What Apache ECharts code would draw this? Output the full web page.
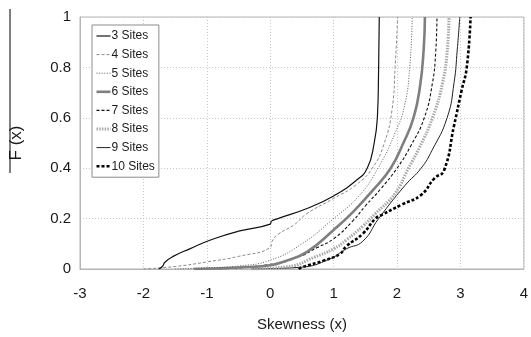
<!DOCTYPE html>
<html>
<head>
<meta charset="utf-8">
<script src="https://cdn.jsdelivr.net/npm/echarts@6/dist/echarts.min.js"></script>
<style>
  html, body { margin: 0; padding: 0; background: #fff; }
  #chart { width: 531px; height: 337px; }
</style>
</head>
<body>
<div id="chart"></div>
<script>
  const xTicks = [-3, -2, -1, 0, 1, 2, 3, 4];
  const yTicks = [0, 0.2, 0.4, 0.6, 0.8, 1];
  const seriesNames = ["3 Sites", "4 Sites", "5 Sites", "6 Sites", "7 Sites", "8 Sites", "9 Sites", "10 Sites"];

  // [skewness, F(x)]
  const sites3 = [[-1.76, 0], [-1.7, 0.01], [-1.66, 0.027], [-1.53, 0.05], [-1.27, 0.08], [-0.91, 0.118], [-0.5, 0.15], [0, 0.178], [0.02, 0.19], [0.12, 0.2], [0.58, 0.24], [1.0, 0.29], [1.35, 0.35], [1.53, 0.4], [1.64, 0.5], [1.69, 0.6], [1.71, 0.8], [1.72, 1]];
  const sites4 = [[-2, 0], [-1.5, 0.01], [-1, 0.028], [-0.5, 0.05], [0, 0.085], [0.03, 0.11], [0.12, 0.137], [0.38, 0.176], [0.58, 0.22], [1.0, 0.28], [1.35, 0.333], [1.61, 0.4], [1.8, 0.5], [1.92, 0.63], [1.97, 0.8], [2.01, 1]];
  const sites5 = [[-1.5, 0], [-1, 0.005], [-0.5, 0.012], [0, 0.035], [0.5, 0.1], [1.0, 0.2], [1.4, 0.29], [1.7, 0.4], [1.97, 0.54], [2.12, 0.65], [2.2, 0.8], [2.24, 1]];
  const sites6 = [[-1.2, 0], [-0.5, 0.006], [0, 0.015], [0.22, 0.03], [0.58, 0.068], [1.0, 0.155], [1.3, 0.225], [1.61, 0.31], [1.9, 0.4], [2.1, 0.5], [2.26, 0.6], [2.36, 0.72], [2.42, 0.87], [2.44, 1]];
  const sites7 = [[-0.8, 0], [0, 0.018], [0.43, 0.046], [0.74, 0.085], [1.0, 0.12], [1.3, 0.19], [1.5, 0.25], [1.75, 0.32], [2.0, 0.4], [2.22, 0.49], [2.43, 0.6], [2.56, 0.74], [2.61, 0.86], [2.63, 1]];
  const sites8 = [[-0.3, 0], [0.3, 0.01], [0.69, 0.046], [1.0, 0.08], [1.2, 0.115], [1.46, 0.17], [1.66, 0.22], [1.97, 0.3], [2.18, 0.4], [2.35, 0.48], [2.56, 0.6], [2.72, 0.74], [2.79, 0.86], [2.82, 1]];
  const sites9 = [[-0.3, 0], [0.48, 0.007], [0.94, 0.04], [1.2, 0.08], [1.46, 0.11], [1.71, 0.2], [2.12, 0.33], [2.38, 0.4], [2.55, 0.47], [2.79, 0.6], [2.9, 0.74], [2.95, 0.87], [2.99, 1]];
  const sites10 = [[0.45, 0], [0.5, 0.007], [0.84, 0.033], [1.1, 0.06], [1.2, 0.09], [1.46, 0.14], [1.66, 0.2], [1.77, 0.216], [2.07, 0.255], [2.38, 0.294], [2.59, 0.36], [2.74, 0.39], [2.9, 0.57], [3.02, 0.71], [3.1, 0.8], [3.16, 1]];

  const seriesData = [sites3, sites4, sites5, sites6, sites7, sites8, sites9, sites10];
  const lineStyles = [
    { color: "#111", width: 1.2, type: "solid" },
    { color: "#8a8a8a", width: 1, type: [3, 2] },
    { color: "#5e5e5e", width: 1, type: [1, 1.6] },
    { color: "#7f7f7f", width: 2.6, type: "solid" },
    { color: "#111", width: 1.1, type: [3, 2] },
    { color: "#a8a8a8", width: 3, type: [1.5, 1.2] },
    { color: "#222", width: 1, type: "solid" },
    { color: "#000", width: 2.6, type: [3, 2] }
  ];

  const chart = echarts.init(document.getElementById("chart"));
  const textColor = "#1a1a1a";

  chart.setOption({
    animation: false,
    grid: { left: 77, right: 0, top: 17, bottom: 65, show: true, borderColor: "#b5b5b5", borderWidth: 1 },
    legend: {
      orient: "vertical",
      left: 92,
      top: 25,
      width: 68,
      padding: [5, 4, 5, 3],
      itemWidth: 14,
      itemHeight: 10,
      itemGap: 6.6,
      itemStyle: { opacity: 0 },
      backgroundColor: "#fff",
      borderColor: "#8c8c8c",
      borderWidth: 1,
      borderRadius: 0,
      textStyle: { fontFamily: "Liberation Sans", fontSize: 12, color: textColor, padding: [0, 0, 0, -4] },
      data: seriesNames.map((name, i) => ({
        name: name,
        lineStyle: { color: lineStyles[i].color, width: lineStyles[i].width, type: lineStyles[i].type }
      }))
    },
    xAxis: {
      type: "value",
      min: xTicks[0],
      max: xTicks[xTicks.length - 1],
      interval: 1,
      name: "Skewness (x)",
      nameLocation: "middle",
      nameGap: 48,
      nameTextStyle: { fontFamily: "Liberation Sans", fontSize: 15, color: textColor },
      axisLine: { show: true, onZero: false, lineStyle: { color: "#b5b5b5" } },
      axisTick: { show: false },
      axisLabel: { fontFamily: "Liberation Sans", fontSize: 15, color: textColor, margin: 17 },
      splitLine: { show: true, lineStyle: { color: "#c8c8c8", type: [1, 2], width: 1 } }
    },
    yAxis: {
      type: "value",
      min: yTicks[0],
      max: yTicks[yTicks.length - 1],
      interval: 0.2,
      name: "F (x)",
      nameLocation: "middle",
      nameGap: 55,
      nameTextStyle: { fontFamily: "Liberation Sans", fontSize: 17, color: textColor },
      axisLine: { show: true, onZero: false, lineStyle: { color: "#b5b5b5" } },
      axisTick: { show: false },
      axisLabel: { fontFamily: "Liberation Sans", fontSize: 15, color: textColor, margin: 9 },
      splitLine: { show: true, lineStyle: { color: "#c8c8c8", type: [1, 2], width: 1 } }
    },
    graphic: [{
      type: "line",
      shape: { x1: 10, y1: 9, x2: 10, y2: 173 },
      style: { stroke: "#555", lineWidth: 1.5 }
    }],
    series: seriesNames.map((name, i) => ({
      name: name,
      type: "line",
      data: seriesData[i],
      showSymbol: false,
      symbol: "none",
      smooth: 0.5,
      lineStyle: lineStyles[i],
      itemStyle: { color: lineStyles[i].color },
      z: 10 - i
    }))
  });
</script>
</body>
</html>
